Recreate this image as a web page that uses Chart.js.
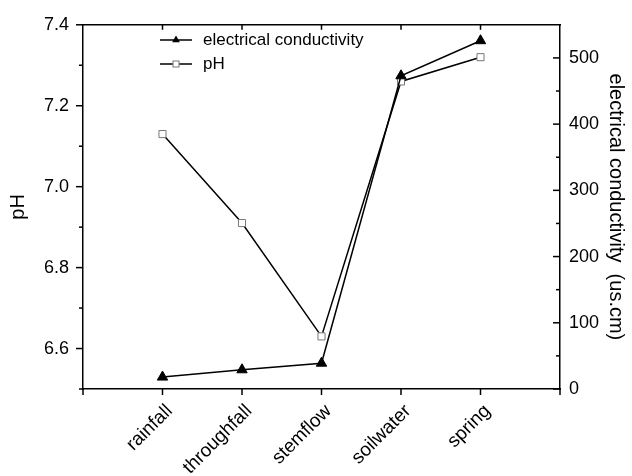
<!DOCTYPE html>
<html><head><meta charset="utf-8">
<script src="https://cdn.jsdelivr.net/npm/chart.js@4.4.0/dist/chart.umd.min.js"></script>
<style>html,body{margin:0;padding:0;background:#fff;}</style>
</head><body>
<canvas id="c" width="632" height="476"></canvas>
<script>
const categories = ['rainfall', 'throughfall', 'stemflow', 'soilwater', 'spring'];
const phValues = [7.13, 6.91, 6.63, 7.26, 7.32];
const ecValues = [18, 29, 39, 473, 526];
const phMajorTicks = [6.6, 6.8, 7.0, 7.2, 7.4];
const phMinorTicks = [6.5, 6.7, 6.9, 7.1, 7.3];
const ecMajorTicks = [0, 100, 200, 300, 400, 500];
const ecMinorTicks = [50, 150, 250, 350, 450];

const xLabels = [''].concat(categories, ['']);
const pad = arr => [null].concat(arr, [null]);
const FONT = "'Liberation Sans', Arial, sans-serif";

const isIn = (arr, v) => arr.some(a => Math.abs(a - v) < 1e-6);

const tickPlugin = {
  id: 'tickMarks',
  afterDraw(chart) {
    const ctx = chart.ctx, a = chart.chartArea;
    const sx = chart.scales.x, sy = chart.scales.y, sy1 = chart.scales.y1;
    ctx.save();
    ctx.strokeStyle = '#000';
    ctx.lineWidth = 1.5;
    const ln = (x1, y1, x2, y2) => { ctx.beginPath(); ctx.moveTo(x1, y1); ctx.lineTo(x2, y2); ctx.stroke(); };
    sy.ticks.forEach(t => {
      const p = sy.getPixelForValue(t.value);
      const len = isIn(phMajorTicks, t.value) ? 7 : 4;
      ln(a.left - len, p, a.left, p);
    });
    sy1.ticks.forEach(t => {
      const p = sy1.getPixelForValue(t.value);
      const len = isIn(ecMajorTicks, t.value) ? 7 : 4;
      ln(a.right - len, p, a.right, p);
    });
    sx.ticks.forEach((t, i) => {
      const p = sx.getPixelForTick(i);
      ln(p, a.bottom, p, a.bottom + 6);
      if (i > 0 && i < sx.ticks.length - 1) ln(p, a.top, p, a.top + 5);
    });
    ctx.restore();
  }
};

const legendPlugin = {
  id: 'innerLegend',
  afterDraw(chart) {
    const ctx = chart.ctx;
    const x0 = 160, rows = [40, 64];
    ctx.save();
    chart.data.datasets.forEach((ds, i) => {
      const y = rows[i];
      ctx.strokeStyle = '#000'; ctx.lineWidth = 1.5;
      ctx.beginPath(); ctx.moveTo(x0, y); ctx.lineTo(x0 + 32, y); ctx.stroke();
      const cx = x0 + 16;
      if (ds.pointStyle === 'triangle') {
        const r = 4.5;
        ctx.fillStyle = '#000';
        ctx.beginPath();
        ctx.moveTo(cx, y - r);
        ctx.lineTo(cx + r * 0.866, y + r * 0.5);
        ctx.lineTo(cx - r * 0.866, y + r * 0.5);
        ctx.closePath(); ctx.fill();
      } else {
        ctx.fillStyle = '#fff'; ctx.strokeStyle = '#777'; ctx.lineWidth = 1;
        ctx.fillRect(cx - 3, y - 3, 6, 6);
        ctx.strokeRect(cx - 3, y - 3, 6, 6);
      }
      ctx.fillStyle = '#000';
      ctx.font = '17px ' + FONT;
      ctx.textBaseline = 'middle';
      ctx.textAlign = 'left';
      ctx.fillText(ds.label, x0 + 43, y);
    });
    ctx.restore();
  }
};

new Chart(document.getElementById('c'), {
  type: 'line',
  data: {
    labels: xLabels,
    datasets: [
      {
        label: 'electrical conductivity',
        data: pad(ecValues),
        yAxisID: 'y1',
        borderColor: '#000',
        borderWidth: 1.5,
        pointStyle: 'triangle',
        pointRadius: 6,
        pointBackgroundColor: '#000',
        pointBorderColor: '#000',
        pointBorderWidth: 1,
        tension: 0
      },
      {
        label: 'pH',
        data: pad(phValues),
        yAxisID: 'y',
        borderColor: '#000',
        borderWidth: 1.5,
        pointStyle: 'rect',
        pointRadius: 5,
        pointBackgroundColor: '#fff',
        pointBorderColor: '#777',
        pointBorderWidth: 1,
        tension: 0
      }
    ]
  },
  options: {
    responsive: false,
    animation: false,
    layout: { padding: 0 },
    plugins: { legend: { display: false }, tooltip: { enabled: false } },
    scales: {
      x: {
        type: 'category',
        position: 'bottom',
        offset: false,
        grid: { display: false, drawTicks: false },
        border: { display: true, color: '#000', width: 1.5 },
        ticks: {
          autoSkip: false, minRotation: 45, maxRotation: 45,
          color: '#000', font: { family: FONT, size: 19 }, padding: 11, labelOffset: 7
        },
        afterFit: s => { s.height = 87; }
      },
      x2: {
        type: 'category',
        position: 'top',
        labels: xLabels,
        offset: false,
        grid: { display: false, drawTicks: false },
        border: { display: true, color: '#000', width: 1.5 },
        ticks: { display: false },
        afterFit: s => { s.height = 20; }
      },
      y: {
        type: 'linear',
        position: 'left',
        min: 6.5, max: 7.4,
        afterBuildTicks: s => { s.ticks = phMinorTicks.concat(phMajorTicks).sort((a, b) => a - b).map(v => ({ value: v })); },
        grid: { display: false, drawTicks: false },
        border: { display: true, color: '#000', width: 1.5 },
        ticks: {
          color: '#000', font: { family: FONT, size: 18 }, padding: 14,
          callback: v => isIn(phMajorTicks, v) ? v.toFixed(1) : ''
        },
        title: { display: true, text: 'pH', color: '#000', font: { family: FONT, size: 20 }, padding: { top: 6, bottom: 0 } },
        afterFit: s => { s.width = 83; }
      },
      y1: {
        type: 'linear',
        position: 'right',
        min: 0, max: 550,
        afterBuildTicks: s => { s.ticks = ecMinorTicks.concat(ecMajorTicks).sort((a, b) => a - b).map(v => ({ value: v })); },
        grid: { display: false, drawTicks: false },
        border: { display: true, color: '#000', width: 1.5 },
        ticks: {
          color: '#000', font: { family: FONT, size: 18 }, padding: 9,
          callback: v => isIn(ecMajorTicks, v) ? String(v) : ''
        },
        title: { display: true, text: 'electrical conductivity  (us.cm)', color: '#000', font: { family: FONT, size: 20 }, padding: { top: 4, bottom: 0 } },
        afterFit: s => { s.width = 72; }
      }
    }
  },
  plugins: [tickPlugin, legendPlugin]
});
</script>
</body></html>
